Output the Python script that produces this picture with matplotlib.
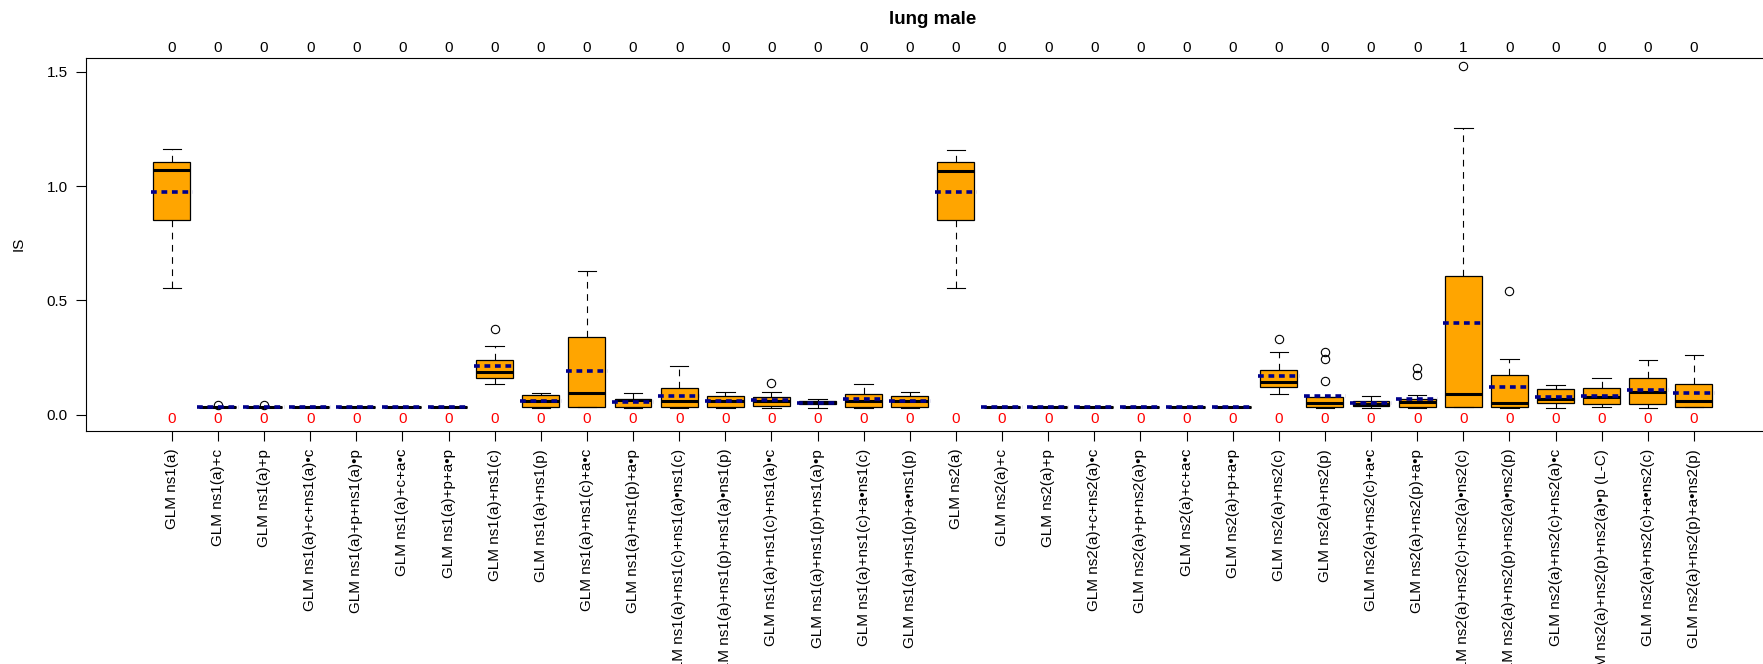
import matplotlib
matplotlib.use('Agg')
import matplotlib.pyplot as plt

plt.rcParams['font.family'] = ['Liberation Sans', 'DejaVu Sans']

labels = [
    'GLM ns1(a)', 'GLM ns1(a)+c', 'GLM ns1(a)+p',
    'GLM ns1(a)+c+ns1(a)\u2022c', 'GLM ns1(a)+p+ns1(a)\u2022p',
    'GLM ns1(a)+c+a\u2022c', 'GLM ns1(a)+p+a\u2022p',
    'GLM ns1(a)+ns1(c)', 'GLM ns1(a)+ns1(p)',
    'GLM ns1(a)+ns1(c)+a\u2022c', 'GLM ns1(a)+ns1(p)+a\u2022p',
    'GLM ns1(a)+ns1(c)+ns1(a)\u2022ns1(c)', 'GLM ns1(a)+ns1(p)+ns1(a)\u2022ns1(p)',
    'GLM ns1(a)+ns1(c)+ns1(a)\u2022c', 'GLM ns1(a)+ns1(p)+ns1(a)\u2022p',
    'GLM ns1(a)+ns1(c)+a\u2022ns1(c)', 'GLM ns1(a)+ns1(p)+a\u2022ns1(p)',
    'GLM ns2(a)', 'GLM ns2(a)+c', 'GLM ns2(a)+p',
    'GLM ns2(a)+c+ns2(a)\u2022c', 'GLM ns2(a)+p+ns2(a)\u2022p',
    'GLM ns2(a)+c+a\u2022c', 'GLM ns2(a)+p+a\u2022p',
    'GLM ns2(a)+ns2(c)', 'GLM ns2(a)+ns2(p)',
    'GLM ns2(a)+ns2(c)+a\u2022c', 'GLM ns2(a)+ns2(p)+a\u2022p',
    'GLM ns2(a)+ns2(c)+ns2(a)\u2022ns2(c)', 'GLM ns2(a)+ns2(p)+ns2(a)\u2022ns2(p)',
    'GLM ns2(a)+ns2(c)+ns2(a)\u2022c', 'GLM ns2(a)+ns2(p)+ns2(a)\u2022p (L-C)',
    'GLM ns2(a)+ns2(c)+a\u2022ns2(c)', 'GLM ns2(a)+ns2(p)+a\u2022ns2(p)',
]

# box statistics
whislo = [0.554, 0.032, 0.032, 0.032, 0.032, 0.032, 0.032, 0.133, 0.028, 0.032,
          0.029, 0.029, 0.029, 0.029, 0.029, 0.029, 0.029,
          0.554, 0.032, 0.032, 0.032, 0.032, 0.032, 0.032, 0.092, 0.029,
          0.029, 0.029, 0.032, 0.029, 0.029, 0.034, 0.029, 0.032]
q1 = [0.850, 0.032, 0.032, 0.032, 0.032, 0.032, 0.032, 0.162, 0.032, 0.032,
      0.035, 0.032, 0.032, 0.039, 0.045, 0.032, 0.032,
      0.850, 0.032, 0.032, 0.032, 0.032, 0.032, 0.032, 0.123, 0.032,
      0.037, 0.032, 0.035, 0.032, 0.050, 0.048, 0.045, 0.032]
med = [1.072, 0.032, 0.032, 0.032, 0.032, 0.032, 0.032, 0.188, 0.058, 0.093,
       0.066, 0.061, 0.058, 0.061, 0.054, 0.061, 0.058,
       1.067, 0.032, 0.032, 0.032, 0.032, 0.032, 0.032, 0.143, 0.051,
       0.047, 0.057, 0.092, 0.050, 0.070, 0.076, 0.100, 0.061]
q3 = [1.108, 0.032, 0.032, 0.032, 0.032, 0.032, 0.032, 0.241, 0.085, 0.338,
      0.069, 0.115, 0.083, 0.076, 0.061, 0.092, 0.083,
      1.105, 0.032, 0.032, 0.032, 0.032, 0.032, 0.032, 0.197, 0.076,
      0.061, 0.068, 0.609, 0.174, 0.111, 0.115, 0.161, 0.134]
whishi = [1.164, 0.032, 0.032, 0.032, 0.032, 0.032, 0.032, 0.302, 0.096, 0.630,
          0.096, 0.214, 0.099, 0.099, 0.070, 0.133, 0.099,
          1.159, 0.032, 0.032, 0.032, 0.032, 0.032, 0.032, 0.274, 0.079,
          0.082, 0.088, 1.254, 0.244, 0.128, 0.159, 0.238, 0.260]
means = [0.976, 0.032, 0.032, 0.032, 0.032, 0.032, 0.032, 0.213, 0.058, 0.192,
         0.054, 0.080, 0.058, 0.064, 0.052, 0.069, 0.058,
         0.973, 0.032, 0.032, 0.032, 0.032, 0.032, 0.032, 0.171, 0.080,
         0.050, 0.067, 0.400, 0.120, 0.077, 0.083, 0.110, 0.096]
outliers = [[], [0.042], [0.042], [], [], [], [], [0.373], [], [],
            [], [], [], [0.137], [], [], [],
            [], [], [], [], [], [], [], [0.331], [0.276, 0.242, 0.149],
            [], [0.206, 0.172], [1.526], [0.543], [], [], [], []]
top_counts = [0, 0, 0, 0, 0, 0, 0, 0, 0, 0, 0, 0, 0, 0, 0, 0, 0,
              0, 0, 0, 0, 0, 0, 0, 0, 0, 0, 0, 1, 0, 0, 0, 0, 0]
bottom_counts = [0, 0, 0, 0, 0, 0, 0, 0, 0, 0, 0, 0, 0, 0, 0, 0, 0,
                 0, 0, 0, 0, 0, 0, 0, 0, 0, 0, 0, 0, 0, 0, 0, 0, 0]

positions = list(range(1, len(labels) + 1))
stats = []
for i in range(len(labels)):
    stats.append({'whislo': whislo[i], 'q1': q1[i], 'med': med[i], 'q3': q3[i],
                  'whishi': whishi[i], 'fliers': outliers[i], 'label': labels[i]})

fig = plt.figure(figsize=(17.63, 6.64), dpi=100)
W, H = 1763, 664
ax = fig.add_axes([86 / W, 233.3 / H, 1693.7 / W, 372.7 / H])

ax.bxp(stats, positions=positions, widths=0.8, patch_artist=True,
       boxprops=dict(facecolor='#FFA500', edgecolor='black', linewidth=0.9),
       medianprops=dict(color='black', linewidth=2.2, solid_capstyle='butt'),
       whiskerprops=dict(color='black', linewidth=0.8, linestyle=(0, (6, 5))),
       capprops=dict(color='black', linewidth=0.8),
       flierprops=dict(marker='o', markerfacecolor='none', markeredgecolor='black',
                       markersize=6, markeredgewidth=0.8))

# mean lines
ax.hlines(means, [p - 0.45 for p in positions], [p + 0.45 for p in positions],
          colors='#00008B', linewidth=2.6, linestyles=(0, (1.6, 1.3)), zorder=5)

for p, c in zip(positions, bottom_counts):
    ax.text(p, -0.02, str(c), color='#FF0000', fontsize=11, ha='center', va='center')

ax.set_xlim(-0.86, 35.86)
ax.set_ylim(-0.070, 1.561)
ax.set_yticks([0, 0.5, 1.0, 1.5], ['0.0', '0.5', '1.0', '1.5'])
ax.set_xticks(positions, labels, rotation=90)
ax.tick_params(axis='x', length=7, pad=6, labelsize=11)
ax.tick_params(axis='y', length=7, pad=6, labelsize=11)

top = ax.secondary_xaxis('top')
top.set_xticks(positions, [str(c) for c in top_counts])
top.tick_params(length=0, pad=2, labelsize=11)
top.spines['top'].set_visible(False)

fig.text(19 / W, 1 - 244 / H, 'IS', rotation=90, ha='center', va='center', fontsize=11)
fig.text(933 / W, 1 - 20 / H, 'lung male', ha='center', va='center',
         fontsize=13.5, fontweight='bold')

fig.savefig('out.png', dpi=100)
